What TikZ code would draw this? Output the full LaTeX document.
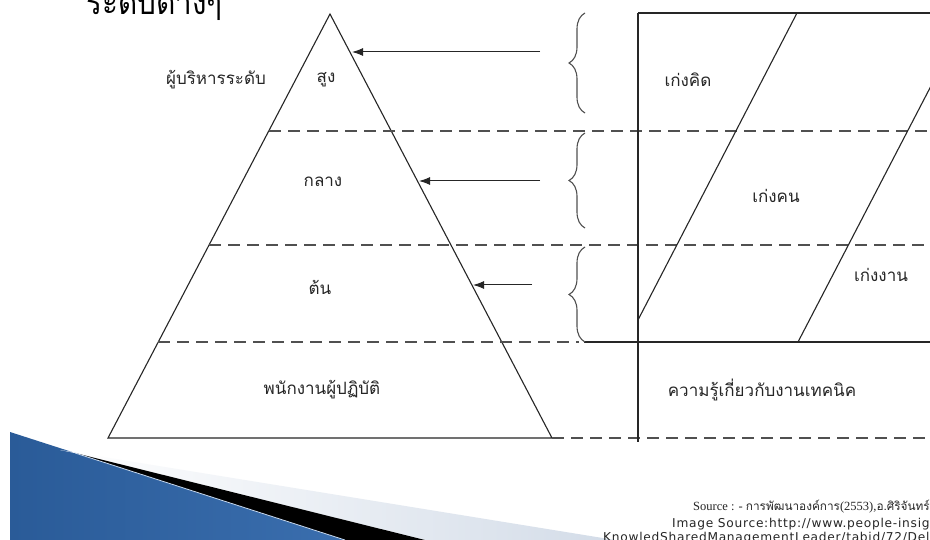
\documentclass[tikz,border=0pt]{standalone}
\usepackage{fontspec}
\newfontfamily\thai[Script=Thai]{Loma}
\newfontfamily\lserif{Liberation Serif}
\newfontfamily\dvs[LetterSpace=6]{DejaVu Sans}
\usetikzlibrary{arrows.meta,decorations.pathreplacing}
\definecolor{ink}{HTML}{262626}
\definecolor{dashc}{HTML}{505050}
\definecolor{blueA}{HTML}{2A5B98}
\definecolor{blueB}{HTML}{6D9FD8}
\definecolor{blueC}{HTML}{3A6EAE}
\definecolor{paleband}{HTML}{D3DCE8}
\begin{document}
\begin{tikzpicture}[x=1pt,y=-1pt,
  solidline/.style={draw=ink,line width=1.1pt},
  dashline/.style={draw=dashc,line width=1.3pt,dash pattern=on 12pt off 7pt},
  arr/.style={draw=ink,line width=1pt,-{Latex[length=11pt,width=8pt]}},
  brc/.style={draw=dashc,line width=1.1pt,decorate,decoration={brace,amplitude=16pt}},
  lbl/.style={font=\thai\fontsize{17}{20}\selectfont,text=ink,inner sep=0pt},
  srcsans/.style={anchor=base west,inner sep=0pt,text=ink,font=\dvs\fontsize{12.2}{15}\selectfont},
]
\useasboundingbox (0,0) rectangle (930,540);
\fill[white] (0,0) rectangle (930,540);
\clip (0,0) rectangle (930,540);

% ---------- coordinates ----------
\coordinate (A) at (330,14);
\coordinate (BL) at (108,438);
\coordinate (BR) at (552,438);
\coordinate (d1l) at (269,131);  \coordinate (d1r) at (932,131);
\coordinate (d2l) at (209,245);  \coordinate (d2r) at (932,245);
\coordinate (d3l) at (158,342);  \coordinate (d3m) at (579,342);
\coordinate (s3l) at (584,342);  \coordinate (s3r) at (932,342);
\coordinate (d4r) at (932,438);
\coordinate (vt) at (638,13);    \coordinate (vb) at (638,442);
\coordinate (tr) at (932,13);
\coordinate (g1a) at (638,320);  \coordinate (g1b) at (797,13);
\coordinate (g2a) at (798,342);  \coordinate (g2b) at (932,84);
\coordinate (b1t) at (585,13);   \coordinate (b1b) at (585,113);
\coordinate (b2t) at (585,133);  \coordinate (b2b) at (585,228);
\coordinate (b3t) at (585,247);  \coordinate (b3b) at (585,342);
\coordinate (a1s) at (540,52);   \coordinate (a1e) at (352,52);
\coordinate (a2s) at (540,181);  \coordinate (a2e) at (419,181);
\coordinate (a3s) at (532,285);  \coordinate (a3e) at (473,285);

% ---------- decorative swoosh ----------
\shade[left color=blueA, middle color=blueB, right color=blueC]
  (10,432) -- (345,540) -- (10,540) -- cycle;
\shade[left color=white, right color=paleband]
  (60,450) -- (615,540) -- (425,540) -- (75,453) -- cycle;
\fill[black] (75,453) -- (425,540) -- (345,540) -- cycle;
\draw[white!60!blueB, line width=0.8pt] (75,453) -- (345,540);

% ---------- title (cut off at top) ----------
\node[anchor=base west,inner sep=0pt,text=black,font=\thai\fontsize{33}{40}\selectfont] (title) at (86,15) {\scalebox{0.9}[1]{ระดับต่างๆ}};

% ---------- pyramid ----------
\draw[solidline] (A) -- (BL) -- (BR) -- cycle;

% ---------- dashed level lines ----------
\draw[dashline] (d1l) -- (d1r);
\draw[dashline] (d2l) -- (d2r);
\draw[dashline] (d3l) -- (d3m);
\draw[dashline] (BR) -- (d4r);
\draw[solidline] (s3l) -- (s3r);

% ---------- right panel ----------
\draw[solidline] (vt) -- (tr);
\draw[solidline] (vt) -- (vb);
\draw[solidline] (g1a) -- (g1b);
\draw[solidline] (g2a) -- (g2b);

% ---------- braces ----------
\draw[brc] (b1b) -- (b1t);
\draw[brc] (b2b) -- (b2t);
\draw[brc] (b3b) -- (b3t);

% ---------- arrows ----------
\draw[arr] (a1s) -- (a1e);
\draw[arr] (a2s) -- (a2e);
\draw[arr] (a3s) -- (a3e);

% ---------- labels ----------
\node[lbl] (exec)  at (216,80)  {ผู้บริหารระดับ};
\node[lbl] (top)   at (326,80)  {สูง};
\node[lbl] (mid)   at (323,182) {กลาง};
\node[lbl] (low)   at (320,287) {ต้น};
\node[lbl] (staff) at (322,390) {พนักงานผู้ปฏิบัติ};
\node[lbl] (think) at (688,80)  {เก่งคิด};
\node[lbl] (people) at (776,196) {เก่งคน};
\node[lbl] (work)  at (881,275) {เก่งงาน};
\node[lbl] (tech)  at (762,390) {ความรู้เกี่ยวกับงานเทคนิค};

% ---------- source text ----------
\node[anchor=base west,inner sep=0pt,text=ink,font=\fontsize{11.8}{14}\selectfont] (src1) at (693,510)
  {{\lserif\fontsize{12.5}{14}\selectfont Source : - }{\thai การพัฒนาองค์การ}{\lserif\fontsize{12.5}{14}\selectfont (2553),}{\thai อ.ศิริจันทร์}};
\node[srcsans] (src2) at (672,527) {Image Source:http://www.people-insig};
\node[srcsans] (src3) at (603,541) {KnowledSharedManagementLeader/tabid/72/Del};
\end{tikzpicture}
\end{document}
